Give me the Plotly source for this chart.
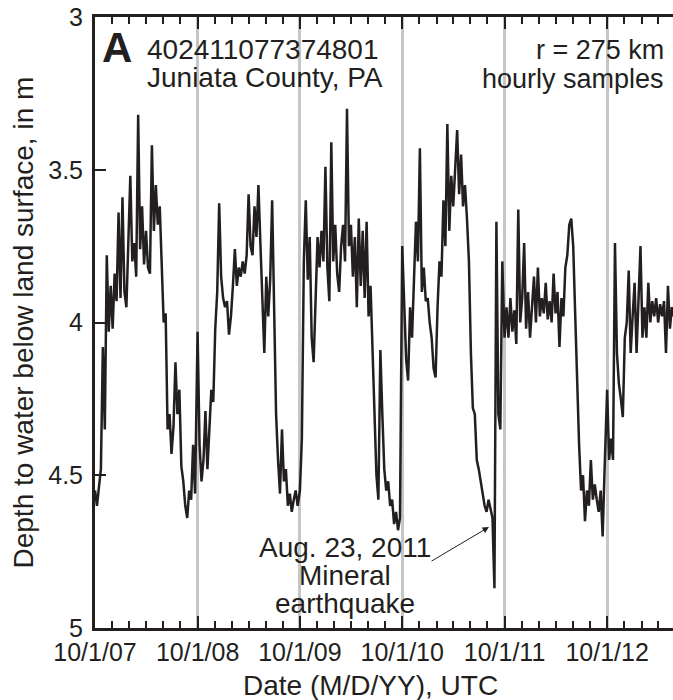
import pandas as pd
import plotly.graph_objects as go

# Weekly readings of depth to water (m below land surface), one list per water year
wy_starts = ["2007-10-01", "2008-10-01", "2009-10-01", "2010-10-01", "2011-10-01", "2012-10-01"]

wy2008 = [4.55, 4.60, 4.54, 4.48, 4.08, 4.35, 3.78, 4.03, 3.88, 4.02, 3.84, 3.93, 3.64,
          3.92, 3.59, 3.90, 3.95, 3.70, 3.52, 3.80, 3.74, 3.85, 3.32, 3.76, 3.62, 3.81,
          3.70, 3.82, 3.84, 3.42, 3.70, 3.55, 3.68, 3.62, 3.80, 4.00, 3.97, 4.35, 4.30,
          4.43, 4.34, 4.13, 4.30, 4.22, 4.47, 4.52, 4.60, 4.64, 4.55, 4.58, 4.40, 4.56]
wy2009 = [4.03, 4.40, 4.52, 4.45, 4.29, 4.48, 4.35, 4.22, 4.26, 4.02, 3.90, 3.61, 3.85,
          3.92, 3.95, 3.93, 4.04, 3.98, 3.88, 3.76, 3.88, 3.82, 3.85, 3.80, 3.84, 3.78,
          3.58, 3.75, 3.78, 3.62, 3.72, 3.55, 3.74, 3.90, 4.10, 3.85, 3.98, 3.86, 3.60,
          3.95, 4.30, 4.45, 4.56, 4.35, 4.52, 4.48, 4.60, 4.56, 4.62, 4.58, 4.55, 4.60]
wy2010 = [4.55, 4.38, 3.80, 3.60, 3.86, 3.72, 4.05, 4.13, 3.88, 3.72, 3.82, 3.70, 3.80,
          3.49, 3.82, 3.93, 3.41, 3.80, 3.68, 3.84, 3.90, 3.75, 3.68, 3.80, 3.30, 3.75,
          3.68, 3.85, 3.72, 3.95, 3.66, 3.88, 3.70, 3.92, 3.67, 3.98, 3.88, 4.08, 4.30,
          4.50, 4.58, 4.09, 4.30, 4.48, 4.55, 4.52, 4.60, 4.58, 4.66, 4.62, 4.68, 4.64]
wy2011 = [3.75, 3.95, 4.12, 4.19, 3.95, 4.05, 3.85, 3.67, 3.80, 3.43, 3.90, 3.82, 3.93,
          3.92, 4.00, 4.05, 4.15, 4.18, 3.95, 3.80, 3.85, 3.60, 3.75, 3.35, 3.70, 3.52,
          3.62, 3.48, 3.37, 3.58, 3.45, 3.62, 3.55, 3.66, 3.80, 4.10, 4.28, 4.30, 4.45,
          4.48, 4.52, 4.57, 4.60, 4.62, 4.58, 4.61, 4.64, 4.87, 3.67, 4.30, 4.35, 3.80]
wy2012 = [4.05, 3.95, 4.05, 3.92, 4.03, 3.96, 4.07, 3.63, 4.00, 3.92, 3.74, 4.02, 3.90,
          4.05, 3.95, 3.85, 4.00, 3.82, 3.98, 3.92, 3.97, 3.87, 3.99, 3.93, 4.00, 3.84,
          3.97, 3.90, 4.08, 3.92, 3.98, 3.82, 3.78, 3.68, 3.66, 3.75, 3.97, 4.20, 4.40,
          4.55, 4.50, 4.65, 4.55, 4.60, 4.45, 4.58, 4.53, 4.58, 4.62, 4.55, 4.70, 4.48]
wy2013 = [4.22, 4.45, 4.38, 4.45, 3.74, 4.10, 4.20, 4.25, 4.31, 4.05, 4.00, 3.83, 4.10,
          3.98, 3.87, 4.10, 3.95, 3.75, 4.05, 3.95, 4.05, 3.87, 4.00, 3.93, 3.98, 3.92,
          4.00, 3.94, 3.98, 3.93, 4.10, 3.88, 4.02, 3.95, 3.98]

year_ticks = ["2007-10-01", "2008-10-01", "2009-10-01", "2010-10-01", "2011-10-01", "2012-10-01"]
year_labels = ["10/1/07", "10/1/08", "10/1/09", "10/1/10", "10/1/11", "10/1/12"]
depth_ticks = [3, 3.5, 4, 4.5, 5]
depth_labels = ["3", "3.5", "4", "4.5", "5"]

dates, depths = [], []
for start, vals in zip(wy_starts, [wy2008, wy2009, wy2010, wy2011, wy2012, wy2013]):
    dates.extend(pd.date_range(start, periods=len(vals), freq="7D"))
    depths.extend(vals)

# minor ticks every two months along the date axis
minor_ticks = list(pd.date_range("2007-10-01", "2013-06-01", freq="2MS"))

INK = "#231f20"
GRID = "#c3c7c7"
FONT = "Liberation Sans, Arial, sans-serif"

# plot-area geometry in pixels, used to place the text blocks
L, T, W, H = 95, 17, 578, 611


def fx(px):
    return (px - L) / W


def fy(py):
    return (T + H - py) / H


fig = go.Figure()
fig.add_trace(go.Scatter(x=dates, y=depths, mode="lines",
                         line=dict(color=INK, width=2.5), hoverinfo="skip"))

# white panels behind the text, covering the year grid lines
boxes = [(140, 33, 383, 97), (528, 33, 668, 63), (472, 62, 668, 97), (255, 533, 436, 609)]
for x0, y0, x1, y1 in boxes:
    fig.add_shape(type="rect", xref="paper", yref="paper",
                  x0=fx(x0), x1=fx(x1), y0=fy(y1), y1=fy(y0),
                  fillcolor="white", line=dict(width=0), layer="between")


def label(text, x, y, xanchor="left", size=28, bold=False):
    fig.add_annotation(text=f"<b>{text}</b>" if bold else text,
                       xref="paper", yref="paper", x=fx(x), y=fy(y),
                       xanchor=xanchor, yanchor="middle", showarrow=False,
                       font=dict(family=FONT, size=size, color=INK))


label("A", 100, 47, size=42, bold=True)
label("402411077374801", 145, 50)
label("Juniata County, PA", 145, 78)
label("r = 275 km", 666, 50, xanchor="right", size=27)
label("hourly samples", 666, 79, xanchor="right", size=27)
label("Aug. 23, 2011", 345, 547, xanchor="center")
label("Mineral", 345, 575, xanchor="center")
label("earthquake", 345, 603, xanchor="center")

# arrow pointing at the earthquake response
fig.add_annotation(text="", xref="paper", yref="paper", x=fx(489), y=fy(527),
                   ax=-59, ay=35, showarrow=True, arrowhead=2, arrowsize=1.3,
                   arrowwidth=1, arrowcolor=INK, standoff=0)

# axis titles
label("Date (M/D/YY), UTC", 370, 685, xanchor="center")
fig.add_annotation(text="Depth to water below land surface, in m", xref="paper", yref="paper",
                   x=fx(23), y=0.5, xanchor="center", yanchor="middle", textangle=-90,
                   showarrow=False, font=dict(family=FONT, size=28, color=INK))

fig.update_xaxes(type="date", range=["2007-10-01", "2013-05-24"],
                 tickmode="array", tickvals=year_ticks, ticktext=year_labels,
                 ticks="inside", ticklen=12, tickwidth=2, tickcolor=INK,
                 showline=True, linewidth=3, linecolor=INK, mirror="ticks",
                 showgrid=True, gridcolor=GRID, gridwidth=2.5, zeroline=False,
                 tickfont=dict(family=FONT, size=25, color=INK),
                 minor=dict(tickmode="array", tickvals=minor_ticks, ticks="inside",
                            ticklen=7, tickwidth=1.5, tickcolor=INK, showgrid=False))
fig.update_yaxes(range=[5, 3], tickmode="array", tickvals=depth_ticks, ticktext=depth_labels,
                 ticks="inside", ticklen=11, tickwidth=2, tickcolor=INK,
                 showline=True, linewidth=3, linecolor=INK, mirror=False,
                 showgrid=False, zeroline=False, ticklabelstandoff=4,
                 tickfont=dict(family=FONT, size=25, color=INK))

fig.update_layout(width=673, height=700, margin=dict(l=L, r=0, t=T, b=700 - T - H),
                  plot_bgcolor="white", paper_bgcolor="white", showlegend=False)

fig.write_html("out.html")
